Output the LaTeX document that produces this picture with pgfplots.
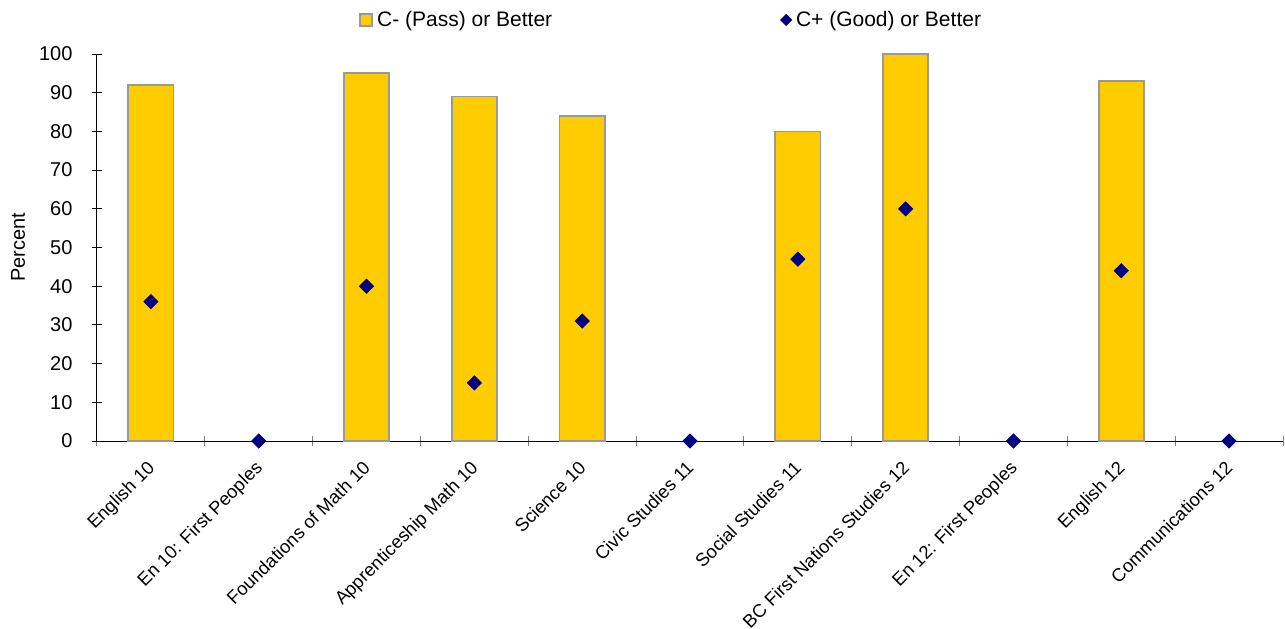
\documentclass[border=0pt]{standalone}
\usepackage{pgfplots}
\pgfplotsset{compat=1.18}
\usepackage{fontspec}
\setmainfont{Liberation Sans}
\definecolor{baryellow}{HTML}{FFCC00}
\definecolor{bargray}{HTML}{999999}
\definecolor{navy}{HTML}{000080}
\begin{document}
\begin{tikzpicture}
\path[use as bounding box] (-48.5pt,-93.5pt) rectangle (594pt,220.5pt);
\begin{axis}[
  at={(0pt,0pt)}, anchor=south west,
  scale only axis, width=593pt, height=193.5pt,
  xmin=-0.5, xmax=10.5, ymin=0, ymax=100,
  axis x line=bottom, axis y line=left,
  axis line style={-, black, line width=0.5pt},
  ytick={0,10,...,100},
  xtick={0,...,10},
  xticklabels={English 10, En 10: First Peoples, Foundations of Math 10, Apprenticeship Math 10, Science 10, Civic Studies 11, Social Studies 11, BC First Nations Studies 12, En 12: First Peoples, English 12, Communications 12},
  major x tick style={draw=none},
  minor xtick={-0.5,0.5,...,10.5},
  minor x tick style={gray, line width=0.5pt},
  minor tick length=5pt,
  y tick style={black, line width=0.5pt},
  major tick length=5.5pt,
  tick align=center,
  /pgf/number format/assume math mode=true,
  yticklabel style={font=\fontsize{10}{12}\selectfont, xshift=-6pt},
  xticklabel style={font=\fontsize{9.2}{11}\selectfont, rotate=45, anchor=north east, inner sep=1pt, xshift=-5.2pt, yshift=-1.8pt},
  ylabel={Percent},
  ylabel style={font=\fontsize{10}{12}\selectfont, at={(axis description cs:-0.0666,0.5)}, anchor=center},
  legend style={draw=none, fill=none, font=\fontsize{10.5}{12}\selectfont, at={(rel axis cs:0.485,1.088)}, anchor=center, legend columns=2, /tikz/every even column/.append style={column sep=112pt}},
  legend cell align=left,
  clip=false,
]
\addplot[ybar, bar width=0.42, fill=baryellow, draw=bargray, line width=0.9pt,
  legend image code/.code={\draw[fill=baryellow, draw=bargray, line width=0.9pt] (0pt,-3pt) rectangle (6pt,3pt);}]
  coordinates {(0,92) (2,95) (3,89) (4,84) (6,80) (7,100) (9,93)};
\addlegendentry{C- (Pass) or Better}
\addplot[only marks, mark=square*, mark size=2.5pt, mark options={rotate=45, fill=navy, draw=navy}, navy,
  legend image code/.code={\draw[fill=navy,draw=navy,rotate=45] (2pt,-2pt) ++(-1.95pt,-1.95pt) rectangle ++(3.9pt,3.9pt);}]
  coordinates {(0,36) (1,0) (2,40) (3,15) (4,31) (5,0) (6,47) (7,60) (8,0) (9,44) (10,0)};
\addlegendentry{C+ (Good) or Better}
\end{axis}
\end{tikzpicture}
\end{document}
